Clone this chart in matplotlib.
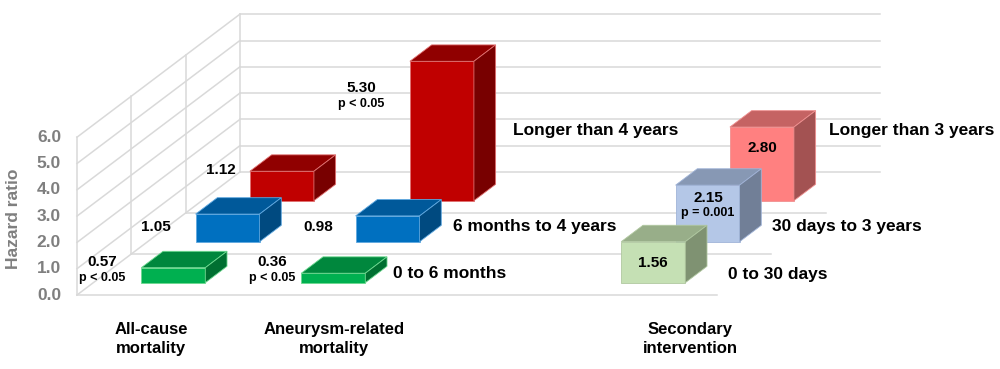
import matplotlib.pyplot as plt
from matplotlib.patches import Polygon

plt.rcParams['font.family'] = ['Liberation Sans', 'DejaVu Sans']

# data
group_labels = ["All-cause\nmortality", "Aneurysm-related\nmortality", "Secondary\nintervention"]
group_cols = [0, 1, 3]  # column 2 is left empty for the series labels
mort_series = ["0 to 6 months", "6 months to 4 years", "Longer than 4 years"]
allcause_hr = [0.57, 1.05, 1.12]
aneurysm_hr = [0.36, 0.98, 5.30]
allcause_p = ["p < 0.05", "", ""]
aneurysm_p = ["p < 0.05", "", "p < 0.05"]
sec_series = ["0 to 30 days", "30 days to 3 years", "Longer than 3 years"]
secondary_hr = [1.56, 2.15, 2.80]
secondary_p = ["", "p = 0.001", ""]
yticks = [0, 1, 2, 3, 4, 5, 6]

# oblique projection (pixel space)
X0, Y0 = 77, 295
SX, DX, DY, SV = 160, 54.3, 41, 26.3
NCOL, NROW = 4, 3


def proj(x, d, v):
    return (X0 + x * SX + d * DX, Y0 - d * DY - v * SV)


def bar3d(ax, col, row, v, cols, z):
    front, top, side, edge = cols
    x0, x1 = col + 0.3, col + 0.7
    d0, d1 = row + 0.3, row + 0.7
    faces = [
        ([proj(x0, d0, 0), proj(x1, d0, 0), proj(x1, d0, v), proj(x0, d0, v)], front),
        ([proj(x0, d0, v), proj(x1, d0, v), proj(x1, d1, v), proj(x0, d1, v)], top),
        ([proj(x1, d0, 0), proj(x1, d1, 0), proj(x1, d1, v), proj(x1, d0, v)], side),
    ]
    for pts, c in faces:
        ax.add_patch(Polygon(pts, closed=True, facecolor=c, edgecolor=edge,
                             lw=0.6, zorder=z))


dark = [("#00B050", "#00873D", "#006F31", "#6CD98F"),
        ("#0070C0", "#00599A", "#004A80", "#5FA8E0"),
        ("#C00000", "#900000", "#780000", "#E07070")]
light = [("#C5E0B4", "#98AE89", "#7F9272", "#B0C8A0"),
         ("#B4C7E7", "#8798B4", "#717F97", "#A0B4D8"),
         ("#FF8080", "#C56363", "#A35252", "#F09090")]

fig = plt.figure(figsize=(10, 3.69), dpi=100)
ax = fig.add_axes([0, 0, 1, 1])
ax.set_xlim(0, 1000)
ax.set_ylim(369, 0)
ax.axis('off')

grid = dict(color="#D9D9D9", lw=1.1, zorder=1)
# back wall
for v in yticks:
    (xa, ya), (xb, yb) = proj(0, NROW, v), proj(NCOL, NROW, v)
    ax.plot([xa, xb], [ya, yb], **grid)
# left wall
for v in yticks:
    (xa, ya), (xb, yb) = proj(0, 0, v), proj(0, NROW, v)
    ax.plot([xa, xb], [ya, yb], **grid)
for d in range(NROW + 1):
    (xa, ya), (xb, yb) = proj(0, d, 0), proj(0, d, yticks[-1])
    ax.plot([xa, xb], [ya, yb], **grid)
# floor
for d in range(NROW):
    (xa, ya), (xb, yb) = proj(0, d, 0), proj(NCOL, d, 0)
    ax.plot([xa, xb], [ya, yb], **grid)

# y tick labels
for v in yticks:
    x, y = proj(0, 0, v)
    ax.text(x - 16, y, f"{v:.1f}", ha="right", va="center", fontsize=12.5,
            fontweight="bold", color="#7F7F7F")
ax.text(14, 219, "Hazard ratio", rotation=90, ha="center", va="center",
        fontsize=12.5, fontweight="bold", color="#7F7F7F")

# bars, back rows first
for row in range(NROW - 1, -1, -1):
    z = 10 + (NROW - row) * 2
    bar3d(ax, group_cols[0], row, allcause_hr[row], dark[row], z)
    bar3d(ax, group_cols[1], row, aneurysm_hr[row], dark[row], z)
    bar3d(ax, group_cols[2], row, secondary_hr[row], light[row], z)

# value labels for mortality bars (left of each bar)
allcause_pos = [(102, 262), (156, 227), (221, 170)]
aneurysm_pos = [(272, 262), (318, 227), (361, 88)]
for vals, ps, pos in [(allcause_hr, allcause_p, allcause_pos),
                      (aneurysm_hr, aneurysm_p, aneurysm_pos)]:
    for v, p, (x, y) in zip(vals, ps, pos):
        ax.text(x, y, f"{v:.2f}", ha="center", va="center", fontsize=11,
                fontweight="bold", color="black", zorder=30)
        if p:
            ax.text(x, y + 16, p, ha="center", va="center", fontsize=9,
                    fontweight="bold", color="black", zorder=30)

# value labels inside secondary intervention bars
sec_pos = [(653, 263), (708, 198), (762, 148)]
for v, p, (x, y) in zip(secondary_hr, secondary_p, sec_pos):
    ax.text(x, y, f"{v:.2f}", ha="center", va="center", fontsize=11,
            fontweight="bold", color="black", zorder=30)
    if p:
        ax.text(x, y + 15, p, ha="center", va="center", fontsize=9,
                fontweight="bold", color="black", zorder=30)

# series labels
mort_lab_pos = [(393, 273), (453, 226), (513, 131)]
sec_lab_pos = [(728, 274), (772, 227), (829, 131)]
for labels, pos in [(mort_series, mort_lab_pos), (sec_series, sec_lab_pos)]:
    for s, (x, y) in zip(labels, pos):
        ax.text(x, y, s, ha="left", va="center", fontsize=12.5,
                fontweight="bold", color="black", zorder=30)

# group labels
group_x = [151, 334, 690]
for s, x in zip(group_labels, group_x):
    ax.text(x, 339, s, ha="center", va="center", fontsize=12,
            fontweight="bold", color="black", linespacing=1.3)

fig.savefig("out.png", dpi=100)
